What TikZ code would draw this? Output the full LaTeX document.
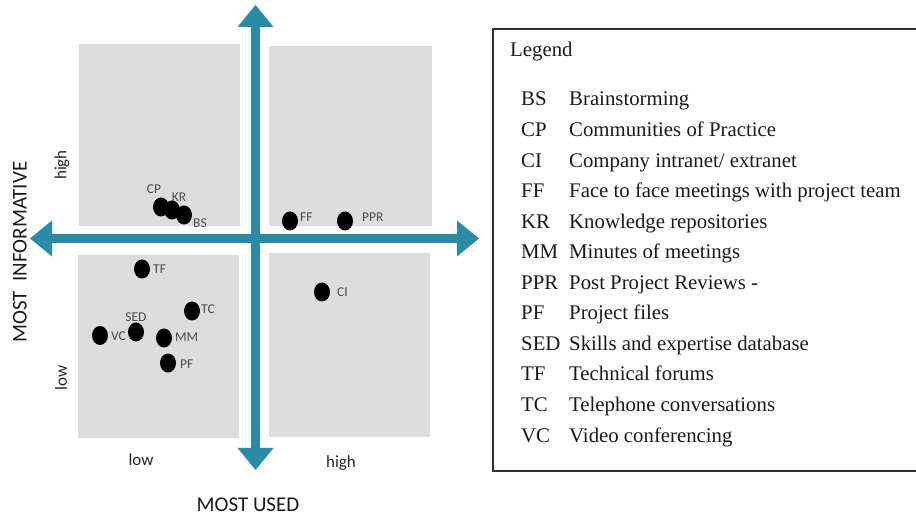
\documentclass[tikz,border=0pt]{standalone}
\usepackage{fontspec}
\setmainfont{Liberation Serif}
\newfontfamily\calib{Carlito}
\usetikzlibrary{arrows.meta,shapes.geometric}
\definecolor{axisblue}{RGB}{43,138,166}
\definecolor{boxgray}{RGB}{221,221,221}
\definecolor{lblgray}{RGB}{75,75,75}
\definecolor{framegray}{RGB}{50,50,50}
\begin{document}
\begin{tikzpicture}[x=1pt,y=-1pt,
  quad/.style={fill=boxgray},
  dot/.style={ellipse,fill=black,minimum width=16pt,minimum height=19pt,inner sep=0pt},
  dlabel/.style={font=\calib\fontsize{13.5}{13.5}\selectfont,text=lblgray,inner sep=0pt},
  axislbl/.style={font=\calib\fontsize{17}{17}\selectfont,text=black!85,inner sep=0pt},
  axistitle/.style={font=\calib\fontsize{21}{21}\selectfont,text=black!90,inner sep=0pt},
  axis/.style={draw=axisblue,line width=9pt,
    {Triangle[length=22pt 0 0,width=36pt 0 0,line width=0pt]}-{Triangle[length=22pt 0 0,width=36pt 0 0,line width=0pt]}},
  legtext/.style={font=\fontsize{20.8}{20.8}\selectfont,anchor=base west,inner sep=0pt,text=black!90},
  legframe/.style={draw=framegray,line width=1.5pt}
]
\useasboundingbox (0,0) rectangle (916,518);

% quadrants
\fill[quad] (79,44) rectangle (240,226);
\fill[quad] (269,46) rectangle (432,226);
\fill[quad] (78,255) rectangle (239,438);
\fill[quad] (269,253) rectangle (430,437);

% axes
\coordinate (L) at (30,238.5);
\coordinate (R) at (479,238.5);
\coordinate (T) at (255.5,5);
\coordinate (B) at (255.5,470);
\draw[axis] (L) -- (R);
\draw[axis] (T) -- (B);

% axis labels
\node[axislbl,rotate=90] (yhigh) at (62,165) {high};
\node[axislbl,rotate=90] (ylow) at (61,378) {low};
\node[axislbl] (xlow) at (141,460) {low};
\node[axislbl] (xhigh) at (341,463) {high};
\node[axistitle] (xtitle) at (248,505) {MOST USED};
\node[axistitle,rotate=90] (ytitle) at (20,252) {MOST\ \ INFORMATIVE};

% dots
\node[dot] (CP) at (161,207) {};
\node[dot] (KR) at (172,210) {};
\node[dot] (BS) at (184,215) {};
\node[dot] (FF) at (290,221) {};
\node[dot] (PPR) at (345,221) {};
\node[dot] (TF) at (142,269) {};
\node[dot] (CI) at (322,292) {};
\node[dot] (TC) at (192,311) {};
\node[dot] (SED) at (136,332) {};
\node[dot] (VC) at (100,335.5) {};
\node[dot] (MM) at (164,338) {};
\node[dot] (PF) at (168,363) {};

% dot labels
\node[dlabel] (lCP) at (154,189) {CP};
\node[dlabel] (lKR) at (179,197) {KR};
\node[dlabel,anchor=west] (lBS) at (193,223) {BS};
\node[dlabel,anchor=west] (lFF) at (300,217) {FF};
\node[dlabel,anchor=west] (lPPR) at (362,217) {PPR};
\node[dlabel,anchor=west] (lTF) at (153,269) {TF};
\node[dlabel,anchor=west] (lCI) at (337,292) {CI};
\node[dlabel,anchor=west] (lTC) at (201,309) {TC};
\node[dlabel] (lSED) at (136,317) {SED};
\node[dlabel,anchor=west] (lVC) at (111,336) {VC};
\node[dlabel,anchor=west] (lMM) at (175,337) {MM};
\node[dlabel,anchor=west] (lPF) at (180,364) {PF};

% legend
\draw[legframe] (493,29) rectangle (925,471);
\node[legtext] (legtitle) at (510,57) {Legend};
\foreach \ab/\de [count=\i from 0] in {
  BS/Brainstorming,
  CP/Communities of Practice,
  CI/Company intranet\slash\ extranet,
  FF/Face to face meetings with project team,
  KR/Knowledge repositories,
  MM/Minutes of meetings,
  PPR/Post Project Reviews -,
  PF/Project files,
  SED/Skills and expertise database,
  TF/Technical forums,
  TC/Telephone conversations,
  VC/Video conferencing}{
  \node[legtext] (ab\i) at (521,106+30.55*\i) {\ab};
  \node[legtext] (de\i) at (569,106+30.55*\i) {\de};
}
\end{tikzpicture}
\end{document}
